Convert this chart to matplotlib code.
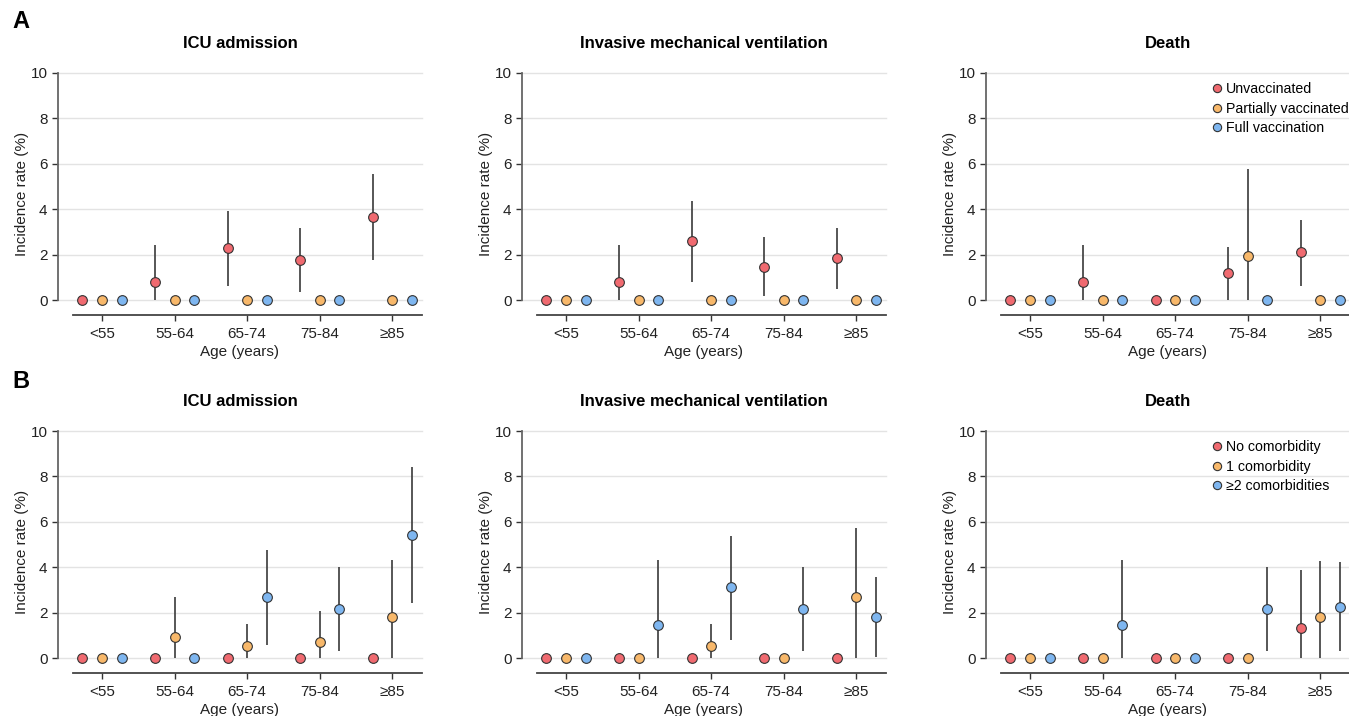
#!/usr/bin/env python3
"""
Incidence rates of ICU admission, invasive mechanical ventilation and death
by age group, vaccination status (A) and number of comorbidities (B)
"""

import numpy as np
import matplotlib.pyplot as plt

plt.rcParams['font.family'] = ['Liberation Sans', 'DejaVu Sans']

age_groups = ['<55', '55-64', '65-74', '75-84', '≥85']
outcomes = ['ICU admission', 'Invasive mechanical ventilation', 'Death']

vacc_labels = ['Unvaccinated', 'Partially vaccinated', 'Full vaccination']
comorb_labels = ['No comorbidity', '1 comorbidity', '≥2 comorbidities']

# --- Panel A: vaccination status (value, lower CI, upper CI), per age group
# ICU admission
a_icu_unvacc = [0, 0.81, 2.27, 1.77, 3.65]
a_icu_unvacc_lo = [0, 0.0, 0.62, 0.37, 1.77]
a_icu_unvacc_hi = [0, 2.42, 3.91, 3.18, 5.54]
a_icu_partial = [0, 0, 0, 0, 0]
a_icu_partial_lo = [0, 0, 0, 0, 0]
a_icu_partial_hi = [0, 0, 0, 0, 0]
a_icu_full = [0, 0, 0, 0, 0]
a_icu_full_lo = [0, 0, 0, 0, 0]
a_icu_full_hi = [0, 0, 0, 0, 0]

# Invasive mechanical ventilation
a_imv_unvacc = [0, 0.81, 2.60, 1.47, 1.83]
a_imv_unvacc_lo = [0, 0.0, 0.81, 0.19, 0.48]
a_imv_unvacc_hi = [0, 2.42, 4.35, 2.77, 3.18]
a_imv_partial = [0, 0, 0, 0, 0]
a_imv_partial_lo = [0, 0, 0, 0, 0]
a_imv_partial_hi = [0, 0, 0, 0, 0]
a_imv_full = [0, 0, 0, 0, 0]
a_imv_full_lo = [0, 0, 0, 0, 0]
a_imv_full_hi = [0, 0, 0, 0, 0]

# Death
a_death_unvacc = [0, 0.81, 0, 1.17, 2.10]
a_death_unvacc_lo = [0, 0.0, 0, 0.0, 0.63]
a_death_unvacc_hi = [0, 2.42, 0, 2.33, 3.52]
a_death_partial = [0, 0, 0, 1.95, 0]
a_death_partial_lo = [0, 0, 0, 0.0, 0]
a_death_partial_hi = [0, 0, 0, 5.75, 0]
a_death_full = [0, 0, 0, 0, 0]
a_death_full_lo = [0, 0, 0, 0, 0]
a_death_full_hi = [0, 0, 0, 0, 0]

# --- Panel B: number of comorbidities
# ICU admission
b_icu_none = [0, 0, 0, 0, 0]
b_icu_none_lo = [0, 0, 0, 0, 0]
b_icu_none_hi = [0, 0, 0, 0, 0]
b_icu_one = [0, 0.91, 0.51, 0.70, 1.79]
b_icu_one_lo = [0, 0.0, 0.0, 0.0, 0.0]
b_icu_one_hi = [0, 2.70, 1.51, 2.07, 4.30]
b_icu_two = [0, 0, 2.67, 2.14, 5.43]
b_icu_two_lo = [0, 0, 0.56, 0.29, 2.42]
b_icu_two_hi = [0, 0, 4.77, 4.00, 8.42]

# Invasive mechanical ventilation
b_imv_none = [0, 0, 0, 0, 0]
b_imv_none_lo = [0, 0, 0, 0, 0]
b_imv_none_hi = [0, 0, 0, 0, 0]
b_imv_one = [0, 0, 0.51, 0, 2.68]
b_imv_one_lo = [0, 0, 0.0, 0, 0.0]
b_imv_one_hi = [0, 0, 1.51, 0, 5.72]
b_imv_two = [0, 1.47, 3.11, 2.14, 1.80]
b_imv_two_lo = [0, 0.0, 0.81, 0.29, 0.04]
b_imv_two_hi = [0, 4.33, 5.37, 4.00, 3.56]

# Death
b_death_none = [0, 0, 0, 0, 1.32]
b_death_none_lo = [0, 0, 0, 0, 0.0]
b_death_none_hi = [0, 0, 0, 0, 3.87]
b_death_one = [0, 0, 0, 0, 1.79]
b_death_one_lo = [0, 0, 0, 0, 0.0]
b_death_one_hi = [0, 0, 0, 0, 4.28]
b_death_two = [0, 1.47, 0, 2.14, 2.26]
b_death_two_lo = [0, 0.0, 0, 0.29, 0.29]
b_death_two_hi = [0, 4.33, 0, 4.00, 4.22]

colors = ['#F06A70', '#F8B86A', '#7EB6F0']

panel_a = [
    [(a_icu_unvacc, a_icu_unvacc_lo, a_icu_unvacc_hi),
     (a_icu_partial, a_icu_partial_lo, a_icu_partial_hi),
     (a_icu_full, a_icu_full_lo, a_icu_full_hi)],
    [(a_imv_unvacc, a_imv_unvacc_lo, a_imv_unvacc_hi),
     (a_imv_partial, a_imv_partial_lo, a_imv_partial_hi),
     (a_imv_full, a_imv_full_lo, a_imv_full_hi)],
    [(a_death_unvacc, a_death_unvacc_lo, a_death_unvacc_hi),
     (a_death_partial, a_death_partial_lo, a_death_partial_hi),
     (a_death_full, a_death_full_lo, a_death_full_hi)],
]
panel_b = [
    [(b_icu_none, b_icu_none_lo, b_icu_none_hi),
     (b_icu_one, b_icu_one_lo, b_icu_one_hi),
     (b_icu_two, b_icu_two_lo, b_icu_two_hi)],
    [(b_imv_none, b_imv_none_lo, b_imv_none_hi),
     (b_imv_one, b_imv_one_lo, b_imv_one_hi),
     (b_imv_two, b_imv_two_lo, b_imv_two_hi)],
    [(b_death_none, b_death_none_lo, b_death_none_hi),
     (b_death_one, b_death_one_lo, b_death_one_hi),
     (b_death_two, b_death_two_lo, b_death_two_hi)],
]

W, H = 1349, 716
fig = plt.figure(figsize=(W / 100, H / 100), dpi=100)

# pixel layout: left spine x for each column, top (y=10) and bottom spine y per row
col_left = [58, 522, 986]
col_width = 364
row_top = [73, 431]
row_bottom = [315, 673]

offsets = [-0.27, 0.0, 0.27]
x = np.arange(len(age_groups))


def draw_panel(ax, series, title, labels, show_legend):
    ax.set_xlim(-0.607, 4.41)
    ax.set_ylim(-0.66, 10.0)
    for yv in range(0, 11, 2):
        ax.axhline(yv, color='#e3e3e3', linewidth=1.0, zorder=0, clip_on=False)
    for i, (vals, lo, hi) in enumerate(series):
        xs = x + offsets[i]
        vals = np.array(vals)
        lo = np.array(lo)
        hi = np.array(hi)
        has_err = hi > lo
        ax.vlines(xs[has_err], lo[has_err], hi[has_err], color='#3a3a3a',
                  linewidth=1.2, zorder=2)
        ax.plot(xs, vals, 'o', markersize=7.0, markerfacecolor=colors[i],
                markeredgecolor='#333333', markeredgewidth=0.8,
                linestyle='none', zorder=3, label=labels[i], clip_on=False)

    ax.set_title(title, fontsize=12, fontweight='bold', pad=18)
    ax.set_ylabel('Incidence rate (%)', fontsize=11, color='#222222', labelpad=1)
    ax.set_xlabel('Age (years)', fontsize=11, color='#222222', labelpad=2.5)
    ax.set_xticks(x)
    ax.set_xticklabels(age_groups)
    ax.set_yticks(range(0, 11, 2))
    ax.tick_params(axis='both', labelsize=11, colors='#333333',
                   labelcolor='#222222', length=4, width=1)
    ax.tick_params(axis='x', pad=5)
    for s in ['top', 'right']:
        ax.spines[s].set_visible(False)
    ax.spines['left'].set_bounds(0, 10)
    ax.spines['left'].set_color('#666666')
    ax.spines['left'].set_linewidth(1.3)
    ax.spines['bottom'].set_bounds(-0.4, 4.41)
    ax.spines['bottom'].set_color('#444444')
    ax.spines['bottom'].set_linewidth(1.3)

    if show_legend:
        ax.legend(loc='upper left', bbox_to_anchor=(0.595, 0.985), frameon=False,
                  fontsize=10.2, handletextpad=0.05, borderaxespad=0,
                  labelspacing=0.38, markerscale=0.85, handlelength=1.2)


for r, (panel, labels) in enumerate([(panel_a, vacc_labels), (panel_b, comorb_labels)]):
    for c in range(3):
        left = col_left[c] / W
        bottom = 1 - row_bottom[r] / H
        height = (row_bottom[r] - row_top[r]) / H
        ax = fig.add_axes([left, bottom, col_width / W, height])
        draw_panel(ax, panel[c], outcomes[c], labels, show_legend=(c == 2))

fig.text(12 / W, 1 - 22 / H, 'A', fontsize=17, fontweight='bold', va='center')
fig.text(12 / W, 1 - 382 / H, 'B', fontsize=17, fontweight='bold', va='center')

plt.savefig('out.png', dpi=100)
